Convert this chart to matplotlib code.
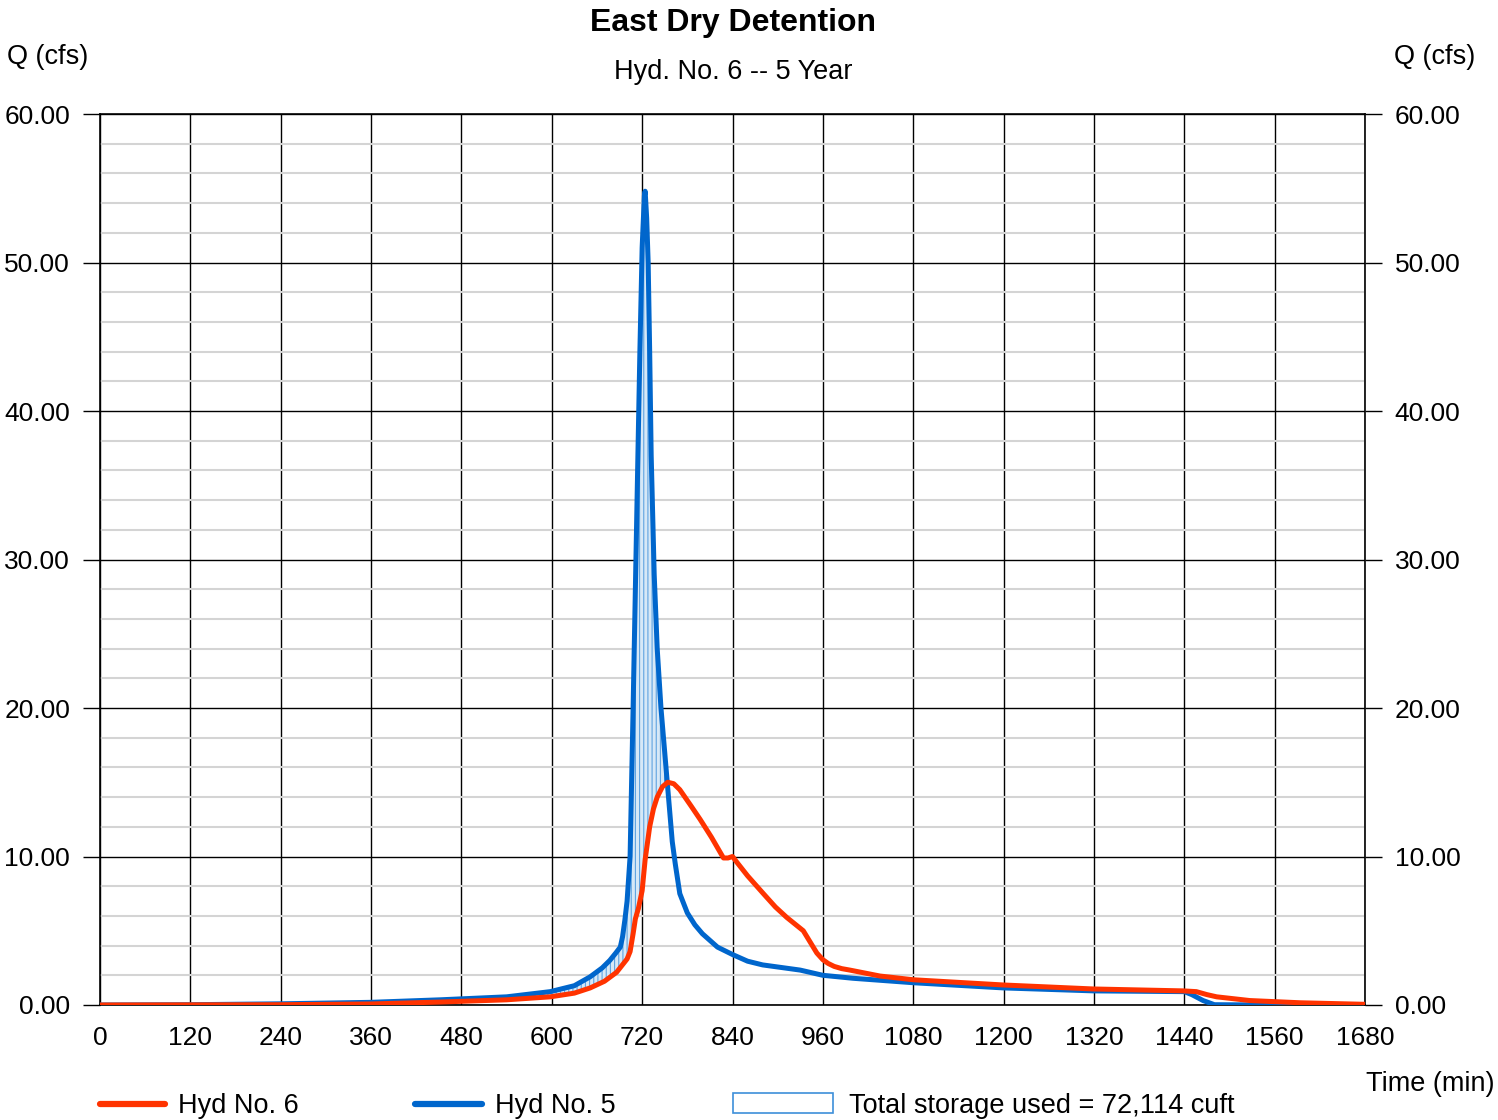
import numpy as np
import matplotlib
matplotlib.use('Agg')
import matplotlib.pyplot as plt
from matplotlib.lines import Line2D
from matplotlib.patches import Rectangle

plt.rcParams['font.family'] = ['Liberation Sans', 'DejaVu Sans']
plt.rcParams['hatch.linewidth'] = 0.8

# Hyd No. 5 (inflow)
t_in = [0, 120, 240, 360, 452, 540, 598, 630, 651, 667, 677, 685, 691, 694, 697, 700, 702, 704, 706, 708,
        711, 714, 717, 720, 723, 724, 726, 728, 730, 732, 736, 740, 745, 750, 755, 760, 764,
        770, 780, 790, 800, 820, 840, 860, 880, 930, 960, 1000, 1080, 1200, 1320, 1440, 1450,
        1465, 1480, 1560, 1680]
q_in = [0, 0.02, 0.08, 0.18, 0.35, 0.55, 0.9, 1.3, 1.9, 2.5, 3.0, 3.5, 3.9, 4.6, 5.7, 7.0, 8.5, 10, 15, 20,
        28, 36, 44, 51, 54.5, 54.8, 53, 50, 44, 37, 29, 24, 20, 17, 14, 11, 9.5,
        7.5, 6.2, 5.4, 4.8, 3.9, 3.4, 2.95, 2.7, 2.35, 2.0, 1.8, 1.5, 1.15, 0.95, 0.9, 0.7,
        0.3, 0.02, 0, 0]

# Hyd No. 6 (outflow)
t_out = [0, 240, 360, 452, 540, 598, 630, 651, 670, 686, 700, 704, 708, 711, 715, 720, 724, 730,
         735, 740, 747, 754, 762, 770, 785, 797, 812, 828, 834, 840, 846, 860, 881, 897, 912,
         934, 940, 946, 952, 960, 967, 975, 985, 996, 1036, 1080, 1199, 1319, 1439, 1456, 1470,
         1483, 1527, 1594, 1677, 1680]
q_out = [0, 0.02, 0.07, 0.2, 0.35, 0.55, 0.8, 1.15, 1.6, 2.2, 3.1, 3.6, 4.8, 5.8, 6.5, 7.7, 9.8, 12.0,
         13.2, 14.0, 14.7, 15.0, 14.9, 14.5, 13.4, 12.5, 11.3, 9.9, 9.9, 10.0, 9.6, 8.7, 7.5, 6.6,
         5.9, 5.0, 4.5, 4.0, 3.5, 3.05, 2.8, 2.6, 2.45, 2.35, 1.95, 1.7, 1.35, 1.08, 0.95, 0.9, 0.7,
         0.55, 0.3, 0.15, 0.05, 0.05]

x_ticks = np.arange(0, 1681, 120)
y_ticks = np.arange(0, 61, 10)
red = '#ff3300'
blue = '#0066cc'

fig = plt.figure(figsize=(14.98, 11.2), dpi=100)
ax = fig.add_axes([100 / 1498, 1 - 1005 / 1120, 1265 / 1498, 891 / 1120])

# storage area between inflow and outflow
tt = np.array(t_in, dtype=float)
qi = np.array(q_in)
qo = np.interp(tt, t_out, q_out)
ax.fill_between(tt, qo, qi, where=qi > qo, interpolate=True, facecolor='#d6e8f7',
                edgecolor='#5fa3e0', hatch='||||', linewidth=0, zorder=2)

ax.plot(t_in, q_in, color=blue, lw=3.6, solid_capstyle='round', solid_joinstyle='round', zorder=4)
ax.plot(t_out, q_out, color=red, lw=3.6, solid_capstyle='round', solid_joinstyle='round', zorder=5)

ax.set_xlim(0, 1680)
ax.set_ylim(0, 60)
ax.set_xticks(x_ticks)
ax.set_yticks(y_ticks)
ax.set_yticks(np.arange(0, 61, 2), minor=True)
ax.set_yticklabels([f'{v:.2f}' for v in y_ticks])
ax.grid(which='major', color='black', lw=1.0, zorder=1)
ax.grid(which='minor', axis='y', color='#d4d4d4', lw=1.5, zorder=0)
ax.tick_params(axis='y', which='major', left=True, right=True, labelright=True,
               length=12, width=1, direction='out', labelsize=19, pad=9.5)
ax.tick_params(axis='y', which='minor', left=False, right=False)
ax.tick_params(axis='x', length=0, labelsize=19, pad=15)
for s in ax.spines.values():
    s.set_color('black')
    s.set_linewidth(1.2)

fig.text(733 / 1498, 1 - 23 / 1120, 'East Dry Detention', ha='center', va='center',
         fontsize=23, fontweight='bold')
fig.text(733 / 1498, 1 - 72 / 1120, 'Hyd. No. 6 -- 5 Year', ha='center', va='center', fontsize=19.5)
fig.text(7 / 1498, 1 - 57 / 1120, 'Q (cfs)', ha='left', va='center', fontsize=19.5)
fig.text(1475 / 1498, 1 - 57 / 1120, 'Q (cfs)', ha='right', va='center', fontsize=19.5)
fig.text(1494 / 1498, 1 - 1084 / 1120, 'Time (min)', ha='right', va='center', fontsize=19.5)

# legend
ly = 1 - 1104 / 1120
ty = 1 - 1106 / 1120
fig.add_artist(Line2D([100 / 1498, 165 / 1498], [ly, ly], color=red, lw=4.5,
                      solid_capstyle='round'))
fig.text(178 / 1498, ty, 'Hyd No. 6', ha='left', va='center', fontsize=19.5)
fig.add_artist(Line2D([415 / 1498, 482 / 1498], [ly, ly], color=blue, lw=4.5,
                      solid_capstyle='round'))
fig.text(495 / 1498, ty, 'Hyd No. 5', ha='left', va='center', fontsize=19.5)
fig.add_artist(Rectangle((733 / 1498, 1 - 1113 / 1120), 100 / 1498, 20 / 1120,
                         transform=fig.transFigure, facecolor='white', edgecolor='#3d8fd9', lw=1.2))
fig.text(849 / 1498, ty, 'Total storage used = 72,114 cuft', ha='left', va='center', fontsize=19.5)

fig.savefig('out.png', dpi=100)
